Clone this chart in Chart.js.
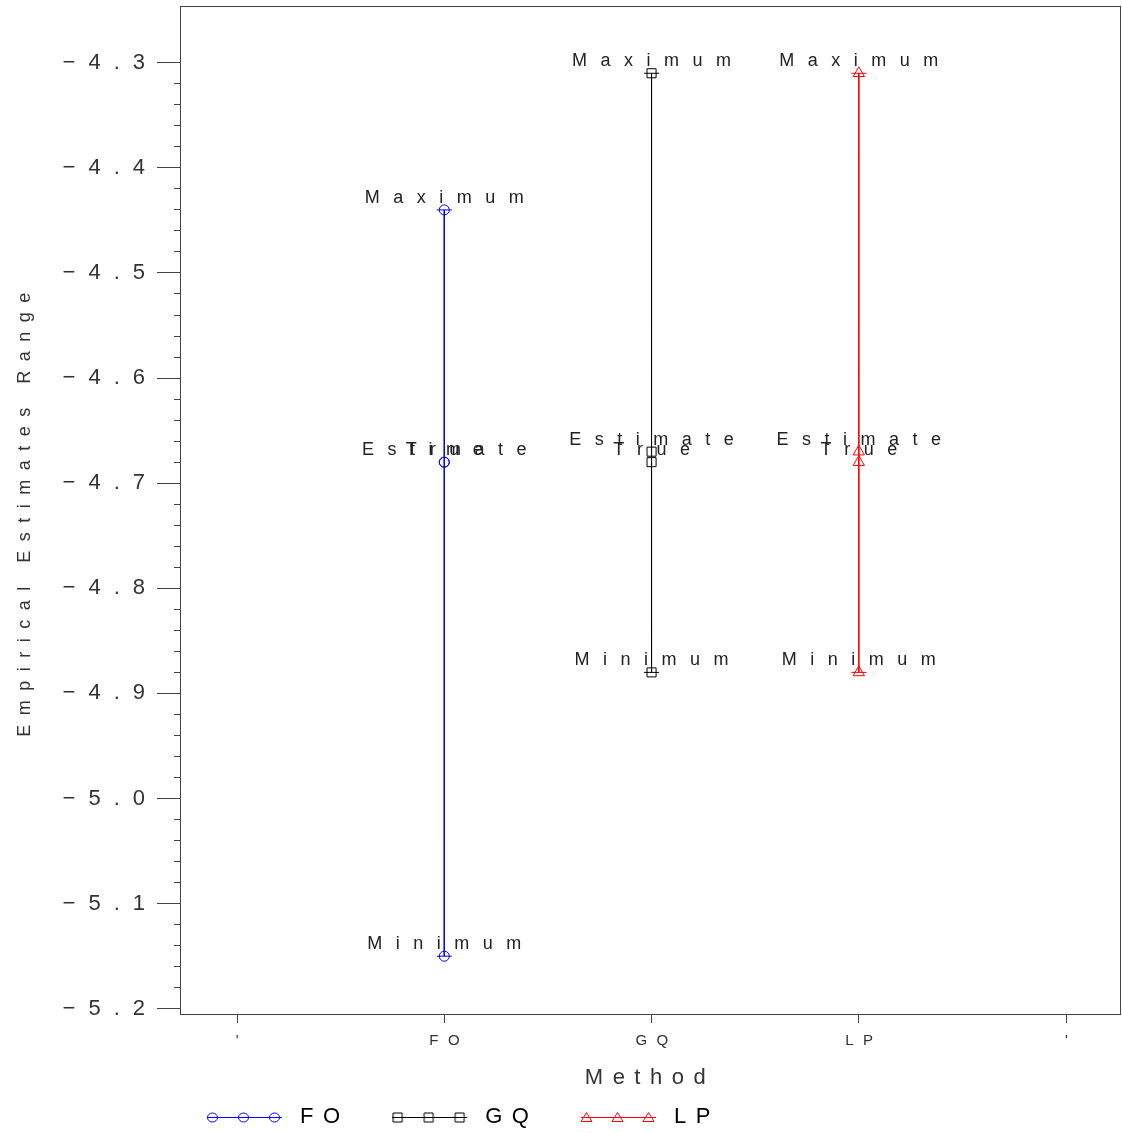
<!DOCTYPE html>
<html>
<head>
<meta charset="utf-8">
<script src="https://cdn.jsdelivr.net/npm/chart.js@4"></script>
<style>
  body { margin: 0; background: #fff; }
</style>
</head>
<body>
<canvas id="rangeChart" width="1122" height="1133"></canvas>
<script>
const methods = ['FO', 'GQ', 'LP'];
const maxVals = [-4.44, -4.31, -4.31];
const estVals = [-4.68, -4.67, -4.67];
const trueVals = [-4.68, -4.68, -4.68];
const minVals = [-5.15, -4.88, -4.88];
const pointNames = ['Maximum', 'Estimate', 'True', 'Minimum'];
const xLabels = ["'", 'FO', 'GQ', 'LP', "'"];
const yTicks = [-5.2, -5.1, -5.0, -4.9, -4.8, -4.7, -4.6, -4.5, -4.4, -4.3];

const colors = ['#0000ff', '#000000', '#ff0000'];
const marks = ['circle', 'rect', 'triangle'];
const markSize = [5, 6.4, 6.5];

// 4 minor ticks between each pair of major ticks
let minorTicks = [];
for (let i = 0; i < yTicks.length - 1; i++) {
    for (let k = 1; k < 5; k++) {
        minorTicks.push(yTicks[i] + (yTicks[i + 1] - yTicks[i]) * k / 5);
    }
}

Chart.defaults.font.family = '"Liberation Sans", Arial, sans-serif';
Chart.defaults.color = '#333';

function drawMark(ctx, style, x, y) {
    ctx.beginPath();
    if (style === 'circle') {
        ctx.ellipse(x, y, 5, 4.5, 0, 0, Math.PI * 2);
    } else if (style === 'rect') {
        ctx.rect(x - 4.5, y - 4.5, 9, 9);
    } else {
        ctx.moveTo(x, y - 5);
        ctx.lineTo(x + 5.5, y + 4);
        ctx.lineTo(x - 5.5, y + 4);
        ctx.closePath();
    }
    ctx.stroke();
}

function makeIcon(i) {
    let c = document.createElement('canvas');
    c.width = 82;
    c.height = 14;
    let g = c.getContext('2d');
    g.strokeStyle = colors[i];
    g.lineWidth = 1;
    g.beginPath();
    g.moveTo(0, 7.5);
    g.lineTo(75, 7.5);
    g.stroke();
    [5, 36, 67].forEach(x => drawMark(g, marks[i], x + 0.5, 7.5));
    return c;
}
const icons = methods.map((m, i) => makeIcon(i));

let datasets = [];
methods.forEach((m, i) => {
    let x = i + 1;
    datasets.push({
        label: m,
        showLine: true,
        data: [
            {x: x, y: maxVals[i]},
            {x: x, y: estVals[i]},
            {x: x, y: trueVals[i]},
            {x: x, y: minVals[i]}
        ],
        borderColor: colors[i],
        borderWidth: 1,
        pointStyle: marks[i],
        pointRadius: markSize[i],
        pointBorderColor: colors[i],
        pointBackgroundColor: 'rgba(0,0,0,0)',
        pointBorderWidth: 1
    });
    // end caps
    datasets.push({
        label: m + ' caps',
        showLine: false,
        data: [{x: x, y: maxVals[i]}, {x: x, y: minVals[i]}],
        pointStyle: 'line',
        pointRadius: 7.5,
        pointBorderColor: colors[i],
        pointBorderWidth: 1
    });
});

function noPad(s) {
    s.paddingTop = 0;
    s.paddingBottom = 0;
    s.paddingLeft = 0;
    s.paddingRight = 0;
}

const sasText = {
    id: 'sasText',
    beforeLayout(chart) {
        chart.ctx.letterSpacing = '9.5px';
    },
    beforeDraw(chart) {
        chart.ctx.letterSpacing = '9.5px';
    },
    beforeDatasetsDraw(chart) {
        const {ctx, chartArea: a} = chart;
        ctx.save();
        ctx.strokeStyle = '#444';
        ctx.lineWidth = 1;
        ctx.strokeRect(Math.round(a.left) + 0.5, Math.round(a.top) + 0.5,
            Math.round(a.right - a.left), Math.round(a.bottom - a.top));
        ctx.restore();
    },
    afterDatasetsDraw(chart) {
        const {ctx, scales} = chart;
        const series = [maxVals, estVals, trueVals, minVals];
        const ls = 13.5;
        ctx.save();
        ctx.font = '18px "Liberation Sans"';
        ctx.fillStyle = '#222';
        ctx.letterSpacing = ls + 'px';
        ctx.textAlign = 'left';
        ctx.textBaseline = 'alphabetic';
        methods.forEach((m, i) => {
            const px = scales.x.getPixelForValue(i + 1);
            series.forEach((vals, k) => {
                const py = scales.y.getPixelForValue(vals[i]);
                const w = ctx.measureText(pointNames[k]).width - ls;
                ctx.fillText(pointNames[k], px - w / 2, py - 7);
            });
        });
        ctx.restore();
        // y tick labels are drawn after this (ticks.z = 1)
        ctx.letterSpacing = '13px';
    }
};

new Chart(document.getElementById('rangeChart'), {
    type: 'scatter',
    data: { datasets: datasets },
    options: {
        responsive: false,
        animation: false,
        layout: { autoPadding: false, padding: { top: 6, right: 2, left: 0, bottom: 0 } },
        plugins: {
            tooltip: { enabled: false },
            legend: {
                position: 'bottom',
                align: 'start',
                fullSize: false,
                maxHeight: 54,
                labels: {
                    usePointStyle: true,
                    pointStyleWidth: 82,
                    padding: 27,
                    font: { size: 22 },
                    color: '#222',
                    generateLabels: () => methods.map((m, i) => ({
                        text: m + ' ',
                        pointStyle: icons[i],
                        fillStyle: 'rgba(0,0,0,0)',
                        strokeStyle: colors[i],
                        lineWidth: 0,
                        hidden: false,
                        datasetIndex: i * 2
                    }))
                }
            }
        },
        scales: {
            x: {
                type: 'linear',
                position: 'bottom',
                min: -0.275,
                max: 4.26,
                afterBuildTicks: s => { s.ticks = xLabels.map((t, i) => ({value: i})); },
                afterFit: s => { s.height = 65; noPad(s); },
                grid: { drawOnChartArea: false, tickLength: 9, color: '#444' },
                border: { color: '#444' },
                ticks: {
                    callback: v => xLabels[v],
                    font: { size: 15 },
                    color: '#333',
                    padding: 9,
                    labelOffset: 5,
                    autoSkip: false,
                    maxRotation: 0
                },
                title: {
                    display: true,
                    text: 'Method',
                    font: { size: 22, lineHeight: 1 },
                    color: '#333',
                    padding: { top: 0, bottom: -10 }
                }
            },
            y: {
                type: 'linear',
                position: 'left',
                weight: 1,
                min: -5.205,
                max: -4.246,
                afterBuildTicks: s => { s.ticks = yTicks.map(v => ({value: v})); },
                afterFit: s => { s.width = 180; noPad(s); },
                grid: { drawOnChartArea: false, tickLength: 23, color: '#444' },
                border: { color: '#444' },
                ticks: {
                    z: 1,
                    callback: v => v.toFixed(1).replace('-', '\u2212'),
                    font: { size: 22 },
                    color: '#333',
                    padding: -1
                },
                title: {
                    display: true,
                    text: 'Empirical Estimates Range',
                    font: { size: 18, lineHeight: 1 },
                    color: '#333',
                    padding: { top: 16, bottom: 0 }
                }
            },
            yMinor: {
                type: 'linear',
                position: 'left',
                weight: 0,
                min: -5.205,
                max: -4.246,
                afterBuildTicks: s => { s.ticks = minorTicks.map(v => ({value: v})); },
                afterFit: s => { s.width = 0; noPad(s); },
                grid: { drawOnChartArea: false, tickLength: 6, color: '#444' },
                border: { display: false },
                ticks: { display: false }
            }
        }
    },
    plugins: [sasText]
});
</script>
</body>
</html>
